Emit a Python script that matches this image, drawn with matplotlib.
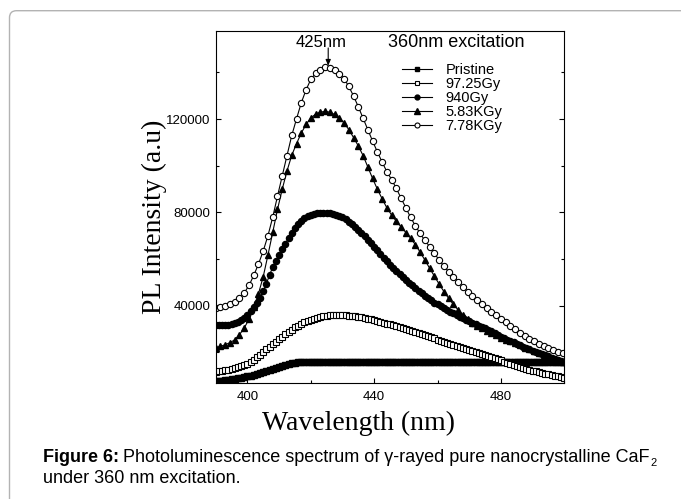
import matplotlib
matplotlib.use("Agg")
import matplotlib.pyplot as plt
from matplotlib.patches import FancyBboxPatch
from matplotlib.transforms import IdentityTransform
from matplotlib.ticker import MultipleLocator

# wavelength grids (nm)
wl_fine = [390, 391, 392, 393, 394, 395, 396, 397, 398, 399,
           400, 401, 402, 403, 404, 405, 406, 407, 408, 409,
           410, 411, 412, 413, 414, 415, 416, 417, 418, 419,
           420, 421, 422, 423, 424, 425, 426, 427, 428, 429,
           430, 431, 432, 433, 434, 435, 436, 437, 438, 439,
           440, 441, 442, 443, 444, 445, 446, 447, 448, 449,
           450, 451, 452, 453, 454, 455, 456, 457, 458, 459,
           460, 461, 462, 463, 464, 465, 466, 467, 468, 469,
           470, 471, 472, 473, 474, 475, 476, 477, 478, 479,
           480, 481, 482, 483, 484, 485, 486, 487, 488, 489,
           490, 491, 492, 493, 494, 495, 496, 497, 498, 499, 500]
wl_coarse = [390, 391.5, 393, 394.5, 396, 397.5, 399, 400.5, 402, 403.5,
             405, 406.5, 408, 409.5, 411, 412.5, 414, 415.5, 417, 418.5,
             420, 421.5, 423, 424.5, 426, 427.5, 429, 430.5, 432, 433.5,
             435, 436.5, 438, 439.5, 441, 442.5, 444, 445.5, 447, 448.5,
             450, 451.5, 453, 454.5, 456, 457.5, 459, 460.5, 462, 463.5,
             465, 466.5, 468, 469.5, 471, 472.5, 474, 475.5, 477, 478.5,
             480, 481.5, 483, 484.5, 486, 487.5, 489, 490.5, 492, 493.5,
             495, 496.5, 498, 499.5]

pristine = [7700, 7800, 7900, 8100, 8300, 8500, 8700, 8900, 9100, 9400,
            9700, 10000, 10400, 10800, 11200, 11700, 12100, 12600, 13000, 13500,
            13900, 14300, 14700, 15000, 15300, 15500, 15700, 15800, 15900, 15900,
            16000, 16000, 16000, 16000, 16000, 16000, 16000, 16000, 16000, 16000,
            16000, 16000, 16000, 16000, 16000, 16000, 16000, 16000, 16000, 16000,
            16000, 16000, 16000, 16000, 16000, 16000, 16000, 16000, 16000, 16000,
            16000, 16000, 16000, 16000, 16000, 16000, 16000, 16000, 16000, 16000,
            16000, 16000, 16000, 16000, 16000, 16000, 16000, 16000, 16000, 16000,
            16000, 16000, 16000, 16000, 16000, 16000, 16000, 16000, 16000, 16000,
            16000, 16000, 16000, 16000, 16000, 16000, 16000, 16000, 16000, 16000,
            15900, 15900, 15900, 15900, 15900, 15900, 15900, 15900, 15900, 15900, 15900]
gy_97 = [11700, 11900, 12100, 12300, 12600, 12900, 13200, 13600, 14000, 14500,
         15100, 15900, 16900, 17900, 19000, 20200, 21300, 22400, 23500, 24600,
         25700, 26800, 27800, 28800, 29800, 30700, 31500, 32300, 33000, 33600,
         34100, 34500, 34900, 35200, 35500, 35700, 35900, 36000, 36000, 36000,
         36000, 35900, 35800, 35700, 35500, 35300, 35100, 34800, 34500, 34200,
         33900, 33500, 33200, 32800, 32400, 32000, 31600, 31200, 30800, 30400,
         30000, 29600, 29200, 28800, 28400, 28000, 27500, 27000, 26500, 26000,
         25500, 25000, 24500, 24000, 23600, 23200, 22800, 22400, 22000, 21500,
         21000, 20600, 20200, 19800, 19400, 19000, 18500, 18000, 17500, 17100,
         16600, 16100, 15600, 15100, 14700, 14200, 13800, 13400, 13000, 12600,
         12200, 11900, 11600, 11200, 10900, 10600, 10300, 10000, 9700, 9500, 9200]
gy_940 = [31700, 31700, 31700, 31800, 31900, 32100, 32500, 33000, 33800, 34900,
          36200, 37800, 39500, 41200, 43500, 46300, 49500, 53200, 56600, 59300,
          61800, 64200, 66600, 69000, 71300, 73500, 75200, 76500, 77500, 78300,
          78800, 79300, 79600, 79800, 79900, 79900, 79800, 79500, 79100, 78600,
          78000, 77100, 76000, 74900, 73700, 72500, 71200, 69800, 68400, 66900,
          65400, 63800, 62200, 60600, 59000, 57500, 56200, 54900, 53700, 52400,
          51100, 49900, 48700, 47500, 46300, 45300, 44200, 43200, 42300, 41400,
          40600, 39800, 39000, 38200, 37500, 36700, 36000, 35300, 34600, 34000,
          33300, 32700, 32100, 31500, 30900, 30300, 29600, 29000, 28200, 27500,
          26700, 26100, 25500, 24900, 24300, 23700, 23000, 22400, 21800, 21300,
          20700, 20200, 19700, 19200, 18700, 18300, 17800, 17300, 16800, 16400, 15900]
kgy_583 = [22000, 22600, 23300, 24200, 25400, 27600, 30500, 34200, 39500, 45200,
           52500, 61800, 71500, 81300, 90000, 97800, 104500, 109500, 114000, 117700,
           120500, 122100, 123000, 123300, 123000, 122000, 120400, 118400, 115500, 112100,
           108500, 104400, 99500, 94600, 90000, 85900, 82000, 78900, 76200, 73800,
           71400, 69000, 66200, 63000, 59600, 56100, 52700, 49300, 46100, 43200,
           40600, 38200, 36100, 34300, 32800, 31500, 30400, 29300, 28200, 27300,
           26400, 25500, 24700, 23900, 23000, 22100, 21300, 20500, 19700, 19000,
           18300, 17500, 16600, 15700]
kgy_778 = [39000, 39400, 40000, 40800, 41700, 43300, 45500, 48700, 53000, 57900,
           63500, 70100, 78000, 87000, 95700, 104400, 113000, 120100, 127000, 132500,
           137000, 139600, 141200, 142200, 142000, 141000, 139500, 137400, 134000, 129900,
           125300, 120400, 115500, 110600, 106000, 101600, 97500, 94100, 90300, 86100,
           82000, 77900, 74300, 71000, 68000, 65400, 62500, 59600, 57000, 54600,
           52400, 50400, 48000, 46100, 44300, 42400, 40700, 39100, 37500, 36000,
           34500, 33000, 31500, 30000, 28500, 27000, 25700, 24700, 23600, 22700,
           21900, 21000, 20300, 19600]

labels = ["Pristine", "97.25Gy", "940Gy", "5.83KGy", "7.78KGy"]
x_ticks = [400, 440, 480]
y_ticks = [40000, 80000, 120000]

SANS = ["Liberation Sans", "DejaVu Sans"]
SERIF = ["Liberation Serif", "DejaVu Serif"]
plt.rcParams["font.family"] = SANS

W, H = 681, 499
fig = plt.figure(figsize=(W / 100, H / 100), dpi=100)
fig.patch.set_facecolor("white")

# rounded grey frame around figure + caption (runs off right/bottom)
frame = FancyBboxPatch((9.5, -40), 720, H - 10.7 + 40,
                       boxstyle="round,pad=0,rounding_size=7",
                       transform=IdentityTransform(),
                       fc="none", ec="#b3b3b3", lw=1.0)
fig.add_artist(frame)

ax = fig.add_axes([215.7 / W, 1 - 383 / H, 348.6 / W, 352.3 / H])
ax.plot(wl_fine, pristine, "-s", color="k", ms=4, lw=0.8, label=labels[0])
ax.plot(wl_fine, gy_97, "-s", color="k", mfc="white", ms=4, mew=0.8, lw=0.8, label=labels[1])
ax.plot(wl_fine, gy_940, "-o", color="k", ms=4.4, lw=0.8, label=labels[2])
ax.plot(wl_coarse, kgy_583, "-^", color="k", ms=5, lw=0.8, label=labels[3])
ax.plot(wl_coarse, kgy_778, "-o", color="k", mfc="white", ms=4.5, mew=0.8, lw=0.8, label=labels[4])

ax.set_xlim(390, 500)
ax.set_ylim(6900, 157900)
ax.set_xticks(x_ticks)
ax.set_yticks(y_ticks)
ax.xaxis.set_minor_locator(MultipleLocator(20))
ax.yaxis.set_minor_locator(MultipleLocator(20000))
ax.tick_params(which="both", direction="in", right=True, top=False, width=0.8)
ax.tick_params(which="major", length=3.5, labelsize=9.5)
ax.tick_params(axis="x", which="major", pad=6)
ax.tick_params(axis="y", which="major", pad=4)
ax.tick_params(which="minor", length=2.5)
for s in ax.spines.values():
    s.set_linewidth(0.8)

ax.legend(loc="upper left", bbox_to_anchor=(0.5336, 0.908), frameon=False,
          fontsize=10.5, borderpad=0, borderaxespad=0, handlelength=2.1,
          handletextpad=0.9, labelspacing=0.0, numpoints=1, markerscale=0.8)

ax.text(423.2, 151000, "425nm", ha="center", va="baseline", fontsize=12)
ax.annotate("", xy=(425.5, 142900), xytext=(425.5, 150500),
            arrowprops=dict(arrowstyle="-|>,head_width=0.15,head_length=0.35",
                            color="k", lw=0.8, shrinkA=0, shrinkB=0))
ax.text(444.5, 151000, "360nm excitation", ha="left", va="baseline", fontsize=13)

fig.text(154 / W, 1 - 217 / H, "PL Intensity (a.u)", rotation=90, ha="center",
         va="center", family=SERIF, fontsize=20)
fig.text(358 / W, 1 - 423 / H, "Wavelength (nm)", ha="center", va="center",
         family=SERIF, fontsize=20)

# caption, bold lead-in then normal text
renderer = fig.canvas.get_renderer()
cap = 13
t1 = fig.text(43 / W, 1 - 462 / H, "Figure 6:", weight="bold", fontsize=cap)
bb = t1.get_window_extent(renderer)
t2 = fig.text((bb.x1 + 4) / W, 1 - 462 / H,
              "Photoluminescence spectrum of \u03b3-rayed pure nanocrystalline CaF",
              fontsize=cap)
bb2 = t2.get_window_extent(renderer)
fig.text((bb2.x1 + 0.5) / W, 1 - 466 / H, "2", fontsize=cap * 0.62)
fig.text(43 / W, 1 - 483 / H, "under 360 nm excitation.", fontsize=cap)

fig.savefig("out.png", dpi=100)
